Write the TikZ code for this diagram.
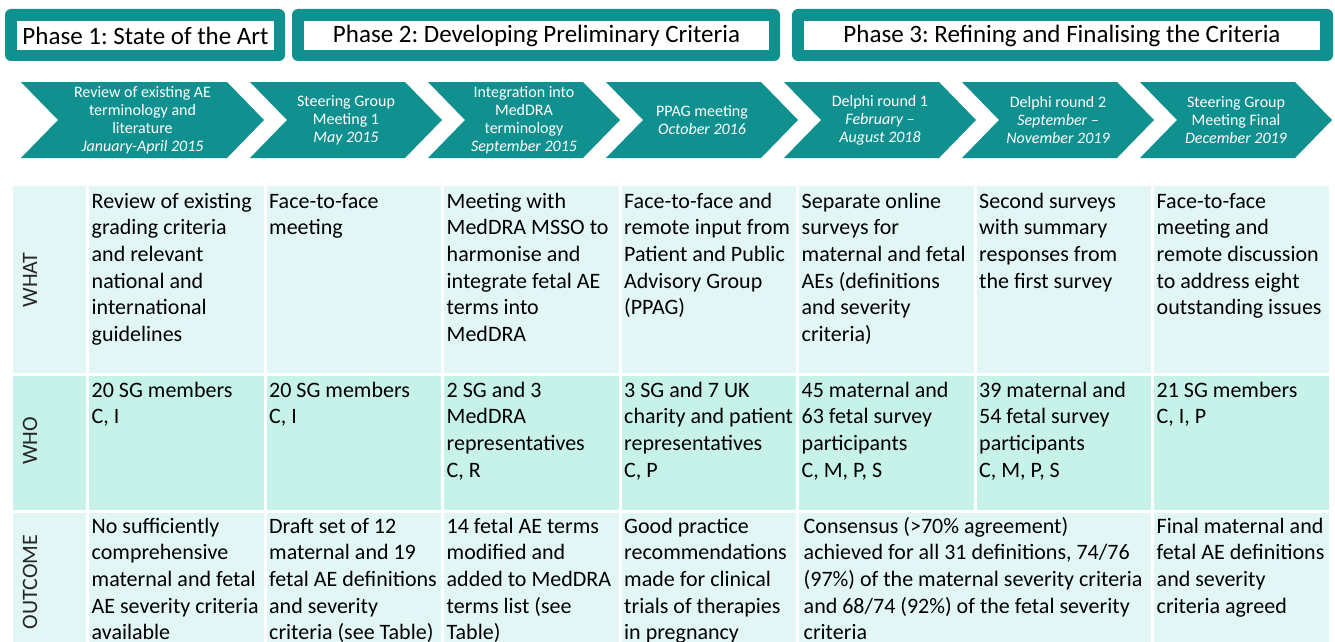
\documentclass[tikz,border=0pt]{standalone}
\usepackage{fontspec}
\setmainfont{Carlito}
\frenchspacing
\definecolor{tealA}{RGB}{16,145,144}
\definecolor{whatbg}{RGB}{226,246,246}
\definecolor{whobg}{RGB}{198,242,233}
\tikzset{
  phaseouter/.style={fill=tealA, rounded corners=6pt, inner sep=0pt, anchor=center},
  phaseinner/.style={fill=white, inner sep=0pt, anchor=center, font=\fontsize{25}{30}\selectfont, text=black},
  chev/.style={fill=tealA},
  chevtext/.style={text=white, align=center, inner sep=0pt, font=\fontsize{16}{18}\selectfont},
  bgcell/.style={inner sep=0pt, anchor=north west, draw=none},
  celltext/.style={inner sep=0pt, anchor=north west, align=left, text=black, font=\fontsize{22}{26.6}\selectfont},
  rowlabel/.style={inner sep=0pt, rotate=90, anchor=center, text=black!85, font=\fontsize{22}{26.6}\selectfont}
}
\newcommand{\fs}{\rule{0pt}{18pt}}
\begin{document}
\begin{tikzpicture}[x=1pt,y=-1pt]
\useasboundingbox (0,0) rectangle (1335,642);
\clip (0,0) rectangle (1335,642);
% phase headers
\node[phaseouter, minimum width=280pt, minimum height=52pt] (p1o) at (145,35) {};
\node[phaseinner, minimum width=257pt, minimum height=29pt] (p1) at (145.5,35.5) {Phase 1: State of the Art};
\node[phaseouter, minimum width=488pt, minimum height=52pt] (p2o) at (536,35) {};
\node[phaseinner, minimum width=465pt, minimum height=29pt] (p2) at (536.5,35.5) {Phase 2: Developing Preliminary Criteria};
\node[phaseouter, minimum width=541pt, minimum height=52pt] (p3o) at (1062.5,35) {};
\node[phaseinner, minimum width=516pt, minimum height=29pt] (p3) at (1062,35.5) {Phase 3: Refining and Finalising the Criteria};
% chevrons
\fill[chev] (21,82) -- (227,82) -- (264,120) -- (227,158) -- (21,158) -- (58,120) -- cycle;
\foreach \L in {250,428,606,784,962,1140}{
  \fill[chev] (\L,82) -- ({\L+155},82) -- ({\L+192},120) -- ({\L+155},158) -- (\L,158) -- ({\L+37},120) -- cycle;
}
\node[chevtext] (c1) at (142.5,120) {Review of existing AE\\terminology and\\literature\\\textit{January-April 2015}};
\node[chevtext] (c2) at (346,120) {Steering Group\\Meeting 1\\\textit{May 2015}};
\node[chevtext] (c3) at (524,120) {Integration into\\MedDRA\\terminology\\\textit{September 2015}};
\node[chevtext] (c4) at (702,120) {PPAG meeting\\\textit{October 2016}};
\node[chevtext] (c5) at (880,120) {Delphi round 1\\\textit{February –}\\\textit{August 2018}};
\node[chevtext] (c6) at (1058,120) {Delphi round 2\\\textit{September –}\\\textit{November 2019}};
\node[chevtext] (c7) at (1236,120) {Steering Group\\Meeting Final\\\textit{December 2019}};
% table backgrounds: label column
\node[bgcell, fill=whatbg, minimum width=73pt, minimum height=187pt] (lw) at (13,186) {};
\node[bgcell, fill=whobg, minimum width=73pt, minimum height=134pt] (lh) at (13,376) {};
\node[bgcell, fill=whatbg, minimum width=73pt, minimum height=140pt] (lo) at (13,513) {};
% columns
\foreach \i in {1,...,7}{
  \pgfmathsetmacro{\cx}{89+177.5*(\i-1)}
  \node[bgcell, fill=whatbg, minimum width=174.5pt, minimum height=187pt] (w\i) at (\cx,186) {};
  \node[bgcell, fill=whobg, minimum width=174.5pt, minimum height=134pt] (h\i) at (\cx,376) {};
}
\foreach \i in {1,...,4}{
  \pgfmathsetmacro{\cx}{89+177.5*(\i-1)}
  \node[bgcell, fill=whatbg, minimum width=174.5pt, minimum height=140pt] (o\i) at (\cx,513) {};
}
\node[bgcell, fill=whatbg, minimum width=352pt, minimum height=140pt] (o5) at (799,513) {};
\node[bgcell, fill=whatbg, minimum width=174.5pt, minimum height=140pt] (o7) at (1154,513) {};
% row labels
\node[rowlabel] (lwt) at (30,280) {WHAT};
\node[rowlabel] (lht) at (30,441) {WHO};
\node[rowlabel] (lot) at (30,582) {OUTCOME};
% WHAT texts
\node[celltext] (tw1) at ([xshift=2.5pt,yshift=-4pt]w1.north west) {\fs Review of existing\\grading criteria\\and relevant\\national and\\international\\guidelines};
\node[celltext] (tw2) at ([xshift=2.5pt,yshift=-4pt]w2.north west) {\fs Face-to-face\\meeting};
\node[celltext] (tw3) at ([xshift=2.5pt,yshift=-4pt]w3.north west) {\fs Meeting with\\MedDRA MSSO to\\harmonise and\\integrate fetal AE\\terms into\\MedDRA};
\node[celltext] (tw4) at ([xshift=2.5pt,yshift=-4pt]w4.north west) {\fs Face-to-face and\\remote input from\\Patient and Public\\Advisory Group\\(PPAG)};
\node[celltext] (tw5) at ([xshift=2.5pt,yshift=-4pt]w5.north west) {\fs Separate online\\surveys for\\maternal and fetal\\AEs (definitions\\and severity\\criteria)};
\node[celltext] (tw6) at ([xshift=2.5pt,yshift=-4pt]w6.north west) {\fs Second surveys\\with summary\\responses from\\the first survey};
\node[celltext] (tw7) at ([xshift=2.5pt,yshift=-4pt]w7.north west) {\fs Face-to-face\\meeting and\\remote discussion\\to address eight\\outstanding issues};
% WHO texts
\node[celltext] (th1) at ([xshift=2.5pt,yshift=-3pt]h1.north west) {\fs 20 SG members\\C, I};
\node[celltext] (th2) at ([xshift=2.5pt,yshift=-3pt]h2.north west) {\fs 20 SG members\\C, I};
\node[celltext] (th3) at ([xshift=2.5pt,yshift=-3pt]h3.north west) {\fs 2 SG and 3\\MedDRA\\representatives\\C, R};
\node[celltext] (th4) at ([xshift=2.5pt,yshift=-3pt]h4.north west) {\fs 3 SG and 7 UK\\charity and patient\\representatives\\C, P};
\node[celltext] (th5) at ([xshift=2.5pt,yshift=-3pt]h5.north west) {\fs 45 maternal and\\63 fetal survey\\participants\\C, M, P, S};
\node[celltext] (th6) at ([xshift=2.5pt,yshift=-3pt]h6.north west) {\fs 39 maternal and\\54 fetal survey\\participants\\C, M, P, S};
\node[celltext] (th7) at ([xshift=2.5pt,yshift=-3pt]h7.north west) {\fs 21 SG members\\C, I, P};
% OUTCOME texts
\node[celltext] (to1) at ([xshift=2.5pt,yshift=-2pt]o1.north west) {\fs No sufficiently\\comprehensive\\maternal and fetal\\AE severity criteria\\available};
\node[celltext] (to2) at ([xshift=2.5pt,yshift=-2pt]o2.north west) {\fs Draft set of 12\\maternal and 19\\fetal AE definitions\\and severity\\criteria (see Table)};
\node[celltext] (to3) at ([xshift=2.5pt,yshift=-2pt]o3.north west) {\fs 14 fetal AE terms\\modified and\\added to MedDRA\\terms list (see\\Table)};
\node[celltext] (to4) at ([xshift=2.5pt,yshift=-2pt]o4.north west) {\fs Good practice\\recommendations\\made for clinical\\trials of therapies\\in pregnancy};
\node[celltext] (to5) at ([xshift=4.5pt,yshift=-2pt]o5.north west) {\fs Consensus (>70\% agreement)\\achieved for all 31 definitions, 74/76\\(97\%) of the maternal severity criteria\\and 68/74 (92\%) of the fetal severity\\criteria};
\node[celltext] (to7) at ([xshift=2.5pt,yshift=-2pt]o7.north west) {\fs Final maternal and\\fetal AE definitions\\and severity\\criteria agreed};
\end{tikzpicture}
\end{document}
